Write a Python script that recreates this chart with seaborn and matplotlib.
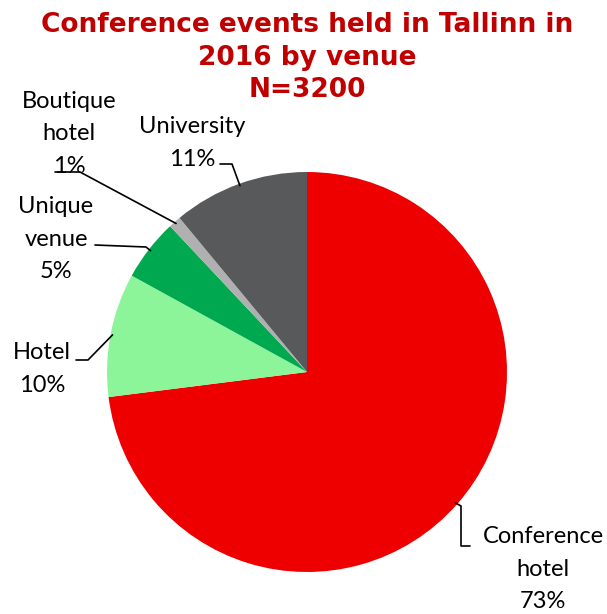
import matplotlib
matplotlib.use("Agg")
import matplotlib.pyplot as plt
import numpy as np
import seaborn as sns

sns.set_theme(style="white")

# venues, clockwise from the top
venues = ["Conference\nhotel", "Hotel", "Unique\nvenue", "Boutique\nhotel", "University"]
shares = [73, 10, 5, 1, 11]
colors = sns.color_palette(["#EE0000", "#8CF59A", "#00A84F", "#B0B0B0", "#58595B"])
title_lines = ["Conference events held in Tallinn in", "2016 by venue", "N=3200"]

W, H = 607, 614
fig = plt.figure(figsize=(W / 100, H / 100), dpi=100)
# pie centre ~ (307, 372) px, radius ~200 px
cx, cy, r = 307, 372, 200
ax = fig.add_axes([(cx - r) / W, (H - cy - r) / H, 2 * r / W, 2 * r / H])

wedges, _ = ax.pie(shares, colors=colors, startangle=90, counterclock=False,
                   radius=1.0, wedgeprops=dict(linewidth=0))
ax.set_xlim(-1, 1)
ax.set_ylim(-1, 1)
ax.set_aspect("equal")
ax.axis("off")

# title, one text per line so the boxes stay tight
for line, y in zip(title_lines, [25, 58, 90]):
    fig.text(0.506, 1 - y / H, line, ha="center", va="center", fontsize=19,
             fontweight="bold", color="#C00000", family="DejaVu Sans")

lab_font = dict(family=["Lato", "DejaVu Sans"], fontsize=17, color="black",
                linespacing=1.7, ha="center", va="center")


def px(x, y):
    # pixel -> data coordinates of the pie axes
    return ((x - cx) / r, (cy - y) / r)


# label centre (px) and leader path (px) before reaching the wedge edge
label_pos = [(543, 569), (42, 369), (56, 239), (69, 134), (192, 143)]
leader_pts = [[(470, 546), (461, 546), (461, 506)],
              [(76, 360), (88, 360)],
              [(95, 245), (146, 247)],
              [(55, 172), (80, 172)],
              [(220, 164), (232, 164)]]

for w, name, pct, (lx, ly), pts in zip(wedges, venues, shares, label_pos, leader_pts):
    ang = np.deg2rad((w.theta1 + w.theta2) / 2)
    ex, ey = np.cos(ang), np.sin(ang)
    path = [px(*p) for p in pts] + [(ex * 0.99, ey * 0.99)]
    xs, ys = zip(*path)
    ax.plot(xs, ys, color="black", lw=1.2, clip_on=False)
    tx, ty = px(lx, ly)
    ax.text(tx, ty, f"{name}\n{pct}%", clip_on=False, **lab_font)

fig.savefig("out.png", dpi=100)
